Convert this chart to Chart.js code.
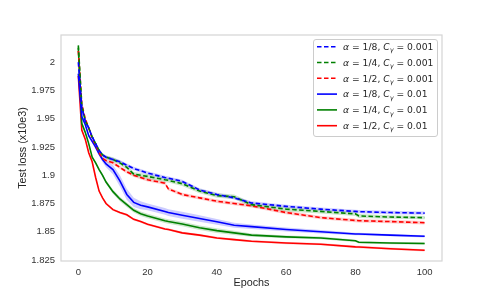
<!DOCTYPE html>
<html><head><meta charset="utf-8">
<style>html,body{margin:0;padding:0;background:#fff;}#wrap{width:491px;height:294px;}</style>
<script src="https://cdn.jsdelivr.net/npm/chart.js@4.4.0/dist/chart.umd.min.js"></script>
</head><body><div id="wrap"><canvas id="c" width="491" height="294"></canvas></div>
<script>
const epochs = [0,1,2,3,4,5,6,7,8,10,12,14,16,18,20,25,26,30,35,40,45,50,60,70,80,81,90,100];
// dashed (C_gamma = 0.001)
const blueDashed  = [2.000,1.960,1.948,1.942,1.934,1.928,1.922,1.918,1.916,1.914,1.912,1.909,1.906,1.904,1.902,1.898,1.8975,1.8946,1.887,1.883,1.880,1.8755,1.8725,1.870,1.868,1.8678,1.867,1.8665];
const greenDashed = [2.015,1.962,1.948,1.942,1.934,1.928,1.922,1.918,1.916,1.914,1.911,1.907,1.901,1.900,1.899,1.896,1.8955,1.8925,1.886,1.882,1.881,1.874,1.870,1.868,1.8658,1.864,1.863,1.8625];
const redDashed   = [2.010,1.963,1.950,1.942,1.933,1.927,1.920,1.915,1.913,1.911,1.907,1.903,1.900,1.898,1.896,1.893,1.888,1.883,1.880,1.877,1.875,1.873,1.867,1.8625,1.860,1.8598,1.859,1.858];
// solid (C_gamma = 0.01)
const blueSolid   = [1.990,1.952,1.945,1.935,1.930,1.925,1.919,1.914,1.910,1.905,1.895,1.883,1.876,1.8735,1.872,1.868,1.867,1.8646,1.8617,1.8588,1.8558,1.8545,1.852,1.850,1.848,1.848,1.847,1.846];
const greenSolid  = [2.013,1.946,1.938,1.928,1.916,1.911,1.905,1.900,1.894,1.8855,1.879,1.874,1.869,1.866,1.864,1.8597,1.859,1.8568,1.8535,1.851,1.849,1.847,1.8455,1.8445,1.842,1.8407,1.840,1.8396];
const redSolid    = [1.988,1.940,1.932,1.920,1.912,1.898,1.886,1.880,1.875,1.8696,1.867,1.865,1.861,1.859,1.8566,1.8525,1.852,1.849,1.847,1.8445,1.843,1.8416,1.840,1.839,1.8366,1.8365,1.835,1.8336];
// half-width of the shaded bands
const blueDashedStd  = [0.001,0.0015,0.0015,0.0015,0.0015,0.0015,0.0015,0.0015,0.0015,0.0015,0.0015,0.0015,0.0015,0.0015,0.0015,0.0015,0.0015,0.0015,0.0015,0.0015,0.0015,0.0015,0.0015,0.0015,0.0015,0.0015,0.0015,0.0015];
const greenDashedStd = [0.001,0.0015,0.0015,0.0015,0.0015,0.0015,0.0015,0.0015,0.0015,0.002,0.002,0.002,0.002,0.002,0.002,0.002,0.002,0.002,0.002,0.002,0.002,0.002,0.002,0.0018,0.0018,0.0018,0.0015,0.0015];
const redDashedStd   = [0.001,0.0015,0.0015,0.0015,0.0015,0.0015,0.0015,0.0015,0.0015,0.0015,0.0015,0.0015,0.0015,0.0015,0.0015,0.0015,0.0015,0.0015,0.0015,0.0015,0.0015,0.0015,0.0015,0.0015,0.0015,0.0015,0.0015,0.0015];
const blueSolidStd   = [0.001,0.0015,0.0015,0.0015,0.0015,0.002,0.002,0.0025,0.003,0.004,0.005,0.005,0.004,0.0035,0.003,0.003,0.003,0.003,0.0028,0.0025,0.0022,0.002,0.0018,0.0015,0.0012,0.0012,0.001,0.001];
const greenSolidStd  = [0.001,0.001,0.001,0.001,0.001,0.0012,0.0012,0.0015,0.0015,0.0018,0.002,0.002,0.002,0.002,0.002,0.002,0.002,0.002,0.002,0.002,0.0018,0.0015,0.0012,0.0012,0.001,0.001,0.001,0.001];
const redSolidStd    = [0.001,0.001,0.001,0.001,0.001,0.001,0.001,0.001,0.001,0.001,0.001,0.001,0.001,0.001,0.001,0.001,0.001,0.001,0.001,0.001,0.001,0.001,0.001,0.001,0.001,0.001,0.001,0.001];

const alphaLabels = ['1/8','1/4','1/2','1/8','1/4','1/2'];
const cLabels = ['0.001','0.001','0.001','0.01','0.01','0.01'];
const xTicks = [0,20,40,60,80,100];
const yTicks = [1.825,1.85,1.875,1.9,1.925,1.95,1.975,2];

const series = [
  {vals: blueDashed,  std: blueDashedStd,  color:'#0000ff', band:'rgba(0,0,255,0.2)', dash:true},
  {vals: greenDashed, std: greenDashedStd, color:'#008000', band:'rgba(0,128,0,0.2)', dash:true},
  {vals: redDashed,   std: redDashedStd,   color:'#ff0000', band:'rgba(255,0,0,0.2)', dash:true},
  {vals: blueSolid,   std: blueSolidStd,   color:'#0000ff', band:'rgba(0,0,255,0.2)', dash:false},
  {vals: greenSolid,  std: greenSolidStd,  color:'#008000', band:'rgba(0,128,0,0.2)', dash:false},
  {vals: redSolid,    std: redSolidStd,    color:'#ff0000', band:'rgba(255,0,0,0.2)', dash:false}
];
const DASH = [4.5,2.5];

const datasets = [];
series.forEach((s,i)=>{
  datasets.push({label:'up'+i, data: epochs.map((e,j)=>({x:e,y:s.vals[j]+s.std[j]})), borderWidth:0, pointRadius:0, fill:false, order:10});
  datasets.push({label:'lo'+i, data: epochs.map((e,j)=>({x:e,y:s.vals[j]-s.std[j]})), borderWidth:0, pointRadius:0, fill:'-1', backgroundColor:s.band, order:10});
});
series.forEach((s,i)=>{
  datasets.push({label:'line'+i, data: epochs.map((e,j)=>({x:e,y:s.vals[j]})), borderColor:s.color, borderWidth:1.6, borderDash: s.dash?DASH:[], pointRadius:0, fill:false, order:0, tension:0});
});

const frame = {
  id:'frame',
  afterDraw(chart){
    const {ctx, chartArea:a} = chart;
    ctx.save();
    ctx.strokeStyle='#d4d4d4'; ctx.lineWidth=1.2;
    ctx.strokeRect(a.left, a.top, a.right-a.left, a.bottom-a.top);
    // legend
    const x0=313.5, y0=39.5, w=124, h=97, r=2.5;
    ctx.beginPath();
    ctx.moveTo(x0+r,y0); ctx.lineTo(x0+w-r,y0); ctx.quadraticCurveTo(x0+w,y0,x0+w,y0+r);
    ctx.lineTo(x0+w,y0+h-r); ctx.quadraticCurveTo(x0+w,y0+h,x0+w-r,y0+h);
    ctx.lineTo(x0+r,y0+h); ctx.quadraticCurveTo(x0,y0+h,x0,y0+h-r);
    ctx.lineTo(x0,y0+r); ctx.quadraticCurveTo(x0,y0,x0+r,y0); ctx.closePath();
    ctx.fillStyle='rgba(255,255,255,0.8)'; ctx.fill();
    ctx.strokeStyle='#cccccc'; ctx.lineWidth=1; ctx.stroke();
    series.forEach((s,i)=>{
      const cy = 46.7 + i*15.8;
      ctx.beginPath(); ctx.strokeStyle=s.color; ctx.lineWidth=1.6; ctx.setLineDash(s.dash?DASH:[]);
      ctx.moveTo(317,cy); ctx.lineTo(337,cy); ctx.stroke(); ctx.setLineDash([]);
      ctx.fillStyle='#262626'; ctx.textBaseline='alphabetic';
      let x = 343; const by = cy+3.3;
      const seg = (t,font,dy)=>{ ctx.font=font; ctx.fillText(t,x,by+(dy||0)); x += ctx.measureText(t).width; };
      seg('α','italic 9.2px "DejaVu Sans"');
      seg(' = '+alphaLabels[i]+', ','9.2px "DejaVu Sans"');
      seg('C','italic 9.2px "DejaVu Sans"');
      seg('γ','italic 6.5px "DejaVu Sans"',2.3);
      seg(' = '+cLabels[i],'9.2px "DejaVu Sans"');
    });
    ctx.restore();
  }
};

new Chart(document.getElementById('c'), {
  type:'line',
  data:{datasets},
  options:{
    responsive:false, animation:false, devicePixelRatio:1,
    layout:{padding:{top:35,right:49,left:0,bottom:0}},
    plugins:{legend:{display:false}, tooltip:{enabled:false}, filler:{propagate:false}},
    scales:{
      x:{type:'linear', min:-5, max:105,
        afterBuildTicks:(s)=>{s.ticks = xTicks.map(v=>({value:v}));},
        afterFit:(s)=>{s.height=33;},
        grid:{display:false, drawTicks:false}, border:{display:false},
        ticks:{padding:6, color:'#333', font:{family:'"Liberation Sans", Arial', size:9.5}, maxRotation:0, callback:(v)=>String(v)},
        title:{display:true, text:'Epochs', color:'#262626', font:{family:'"Liberation Sans", Arial', size:10.8}, padding:{top:0,bottom:4.4}}
      },
      y:{type:'linear', min:1.82411, max:2.02417,
        afterBuildTicks:(s)=>{s.ticks = yTicks.map(v=>({value:v}));},
        afterFit:(s)=>{s.width=61;},
        grid:{display:false, drawTicks:false}, border:{display:false},
        ticks:{padding:6, color:'#333', font:{family:'"Liberation Sans", Arial', size:9.5}, callback:(v)=>String(Number(v.toFixed(3)))},
        title:{display:true, text:'Test loss (x10e3)', color:'#262626', font:{family:'"Liberation Sans", Arial', size:10.8}, padding:{top:16.4,bottom:0}}
      }
    }
  },
  plugins:[frame]
});
</script></body></html>
